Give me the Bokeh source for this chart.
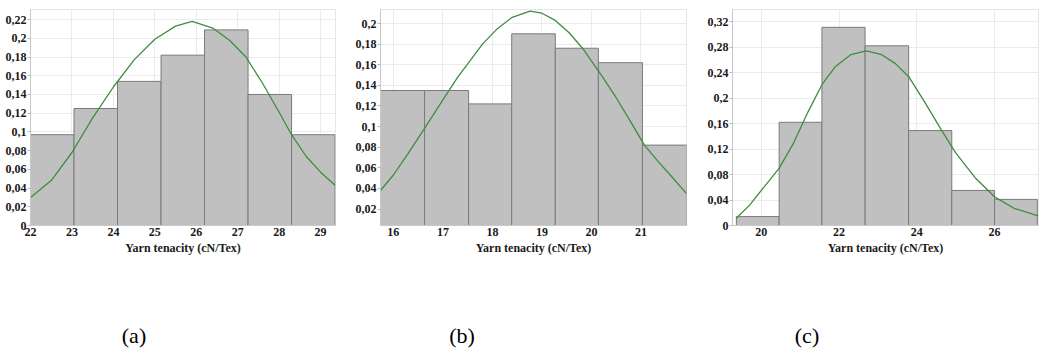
from bokeh.plotting import figure
from bokeh.models import (FixedTicker, CustomJSTickFormatter, Legend, LegendItem,
                          BoxAnnotation, Range1d, Div, Spacer)
from bokeh.layouts import row, column
from bokeh.embed import file_html
from bokeh.resources import INLINE

# ---------------- data ----------------
# Panel (a)
a_edges = [22.0, 23.05, 24.1, 25.15, 26.2, 27.25, 28.3, 29.35]
a_freq = [0.097, 0.125, 0.154, 0.182, 0.209, 0.140, 0.097]
a_curve_x = [22.0, 22.5, 23.0, 23.5, 24.0, 24.5, 25.0, 25.5, 25.9, 26.4, 26.8,
             27.2, 27.6, 28.0, 28.3, 28.65, 29.0, 29.35]
a_curve_y = [0.030, 0.048, 0.078, 0.115, 0.148, 0.177, 0.199, 0.213, 0.218, 0.211,
             0.198, 0.180, 0.152, 0.121, 0.097, 0.074, 0.057, 0.043]
a_xticks = [22, 23, 24, 25, 26, 27, 28, 29]
a_yticks = [0, 0.02, 0.04, 0.06, 0.08, 0.1, 0.12, 0.14, 0.16, 0.18, 0.2, 0.22]

# Panel (b)
b_edges = [15.74, 16.63, 17.52, 18.39, 19.27, 20.14, 21.03, 21.92]
b_freq = [0.135, 0.135, 0.122, 0.190, 0.176, 0.162, 0.082]
b_curve_x = [15.74, 16.0, 16.3, 16.64, 17.0, 17.3, 17.52, 17.8, 18.1, 18.4, 18.76,
             19.0, 19.27, 19.55, 19.82, 20.2, 20.5, 20.8, 21.07, 21.35, 21.61, 21.92]
b_curve_y = [0.038, 0.053, 0.074, 0.099, 0.126, 0.148, 0.162, 0.180, 0.195, 0.206,
             0.212, 0.210, 0.203, 0.191, 0.176, 0.150, 0.128, 0.104, 0.082, 0.066,
             0.052, 0.035]
b_xticks = [16, 17, 18, 19, 20, 21]
b_yticks = [0.02, 0.04, 0.06, 0.08, 0.1, 0.12, 0.14, 0.16, 0.18, 0.2]

# Panel (c)
c_edges = [19.36, 20.46, 21.56, 22.67, 23.79, 24.9, 26.0, 27.1]
c_freq = [0.014, 0.162, 0.311, 0.282, 0.149, 0.055, 0.041]
c_curve_x = [19.35, 19.7, 19.96, 20.2, 20.46, 20.82, 21.2, 21.57, 21.9, 22.3, 22.7,
             23.1, 23.45, 23.8, 24.2, 24.63, 25.0, 25.5, 26.0, 26.5, 27.12]
c_curve_y = [0.011, 0.032, 0.052, 0.070, 0.090, 0.128, 0.178, 0.222, 0.249, 0.268,
             0.274, 0.268, 0.254, 0.233, 0.194, 0.150, 0.114, 0.075, 0.045, 0.027,
             0.015]
c_xticks = [20, 22, 24, 26]
c_yticks = [0, 0.04, 0.08, 0.12, 0.16, 0.2, 0.24, 0.28, 0.32]

x_title = "Yarn tenacity (cN/Tex)"
hist_label = "Histogram"
curve_label = "Weibull (3P)"
panel_labels = ["(a)", "(b)", "(c)"]

# ---------------- style ----------------
FONT = "Liberation Sans Narrow"
BAR_FILL = "#c0c0c0"
BAR_LINE = "#7a7a7a"
CURVE = "#3f8c3f"
GRID = "#ebebeb"
BOX = "#3a3a3a"

comma_fmt = CustomJSTickFormatter(code="""
let s = tick.toFixed(2);
s = s.replace(/0+$/, '').replace(/\\.$/, '');
return s.replace('.', ',');
""")


def make_panel(edges, freq, cx, cy, xticks, yticks, xr, yr, width, height,
               bl, br, bt, bb, legend_xy, box_right_visible=True):
    p = figure(width=width, height=height, output_backend="svg", toolbar_location=None,
               x_range=Range1d(*xr), y_range=Range1d(*yr),
               min_border_left=bl, min_border_right=br, min_border_top=bt,
               min_border_bottom=bb)
    p.background_fill_color = "white"
    p.border_fill_color = "white"
    p.outline_line_color = "#e6e6e6"

    bars = p.quad(left=edges[:-1], right=edges[1:], bottom=0, top=freq,
                  fill_color=BAR_FILL, line_color=BAR_LINE, line_width=1)
    curve = p.line(cx, cy, line_color=CURVE, line_width=1.3)

    p.xaxis.ticker = FixedTicker(ticks=xticks)
    p.yaxis.ticker = FixedTicker(ticks=yticks)
    p.yaxis.formatter = comma_fmt
    p.xgrid.grid_line_color = GRID
    p.ygrid.grid_line_color = GRID

    for ax in (p.xaxis[0], p.yaxis[0]):
        ax.axis_line_color = "#c8c8c8"
        ax.major_label_text_font = FONT
        ax.major_label_text_font_style = "bold"
        ax.major_label_text_font_size = "12px"
        ax.major_label_text_color = "#1a1a1a"
        ax.minor_tick_line_color = None
        ax.major_tick_line_color = "#bbbbbb"
    p.xaxis.major_tick_out = 0
    p.xaxis.major_tick_in = 0
    p.xaxis.major_label_standoff = 2
    p.yaxis.major_tick_out = 3
    p.yaxis.major_tick_in = 0
    p.yaxis.major_label_standoff = 1

    p.xaxis.axis_label = x_title
    p.xaxis.axis_label_text_font = FONT
    p.xaxis.axis_label_text_font_style = "bold"
    p.xaxis.axis_label_text_font_size = "12px"
    p.xaxis.axis_label_text_color = "#1a1a1a"
    p.xaxis.axis_label_standoff = 2

    legend = Legend(items=[LegendItem(label=hist_label, renderers=[bars]),
                           LegendItem(label=curve_label, renderers=[curve])],
                    orientation="horizontal", location=legend_xy)
    legend.label_text_font = FONT
    legend.label_text_font_style = "bold"
    legend.label_text_font_size = "12px"
    legend.label_text_color = "#1a1a1a"
    legend.glyph_width = 10
    legend.glyph_height = 17
    legend.label_height = 17
    legend.label_standoff = 2
    legend.spacing = 8
    legend.padding = 0
    legend.margin = 0
    legend.border_line_color = "#d6d6d6"
    legend.background_fill_color = "white"
    legend.background_fill_alpha = 1
    p.add_layout(legend, "center")

    right = width - 0.75 if box_right_visible else width + 5
    box = BoxAnnotation(left=0.75, right=right, top=0.75, bottom=height - 0.75,
                        left_units="canvas", right_units="canvas",
                        top_units="canvas", bottom_units="canvas",
                        fill_alpha=0, line_color=BOX, line_width=1.5, level="overlay")
    p.add_layout(box)
    return p


H = 290
pa = make_panel(a_edges, a_freq, a_curve_x, a_curve_y, a_xticks, a_yticks,
                (22.0, 29.36), (0, 0.2308), 342, H, 30, 7, 9, 65, (72, -61))
pb = make_panel(b_edges, b_freq, b_curve_x, b_curve_y, b_xticks, b_yticks,
                (15.74, 21.92), (0.004, 0.2136), 348, H, 28, 14, 9, 65, (82, -59))
pc = make_panel(c_edges, c_freq, c_curve_x, c_curve_y, c_xticks, c_yticks,
                (19.26, 27.13), (0, 0.339), 337, H, 27, 3, 9, 65, (75, -60),
                box_right_visible=False)

label_x = [129, 457, 802]
spans = "".join(
    f'<span style="position:absolute;left:{x}px;top:30px;transform:translateX(-50%);'
    f'font-family:\'Liberation Serif\';font-size:22px;line-height:22px;color:#000;">{t}</span>'
    for x, t in zip(label_x, panel_labels))
labels = Div(text=f'<div style="position:relative;width:1041px;height:48px;">{spans}</div>',
             width=1041, height=48)

layout = column(row(pa, Spacer(width=10, height=H), pb, Spacer(width=4, height=H), pc),
                labels)

open("out.html", "w").write(file_html(layout, INLINE))
